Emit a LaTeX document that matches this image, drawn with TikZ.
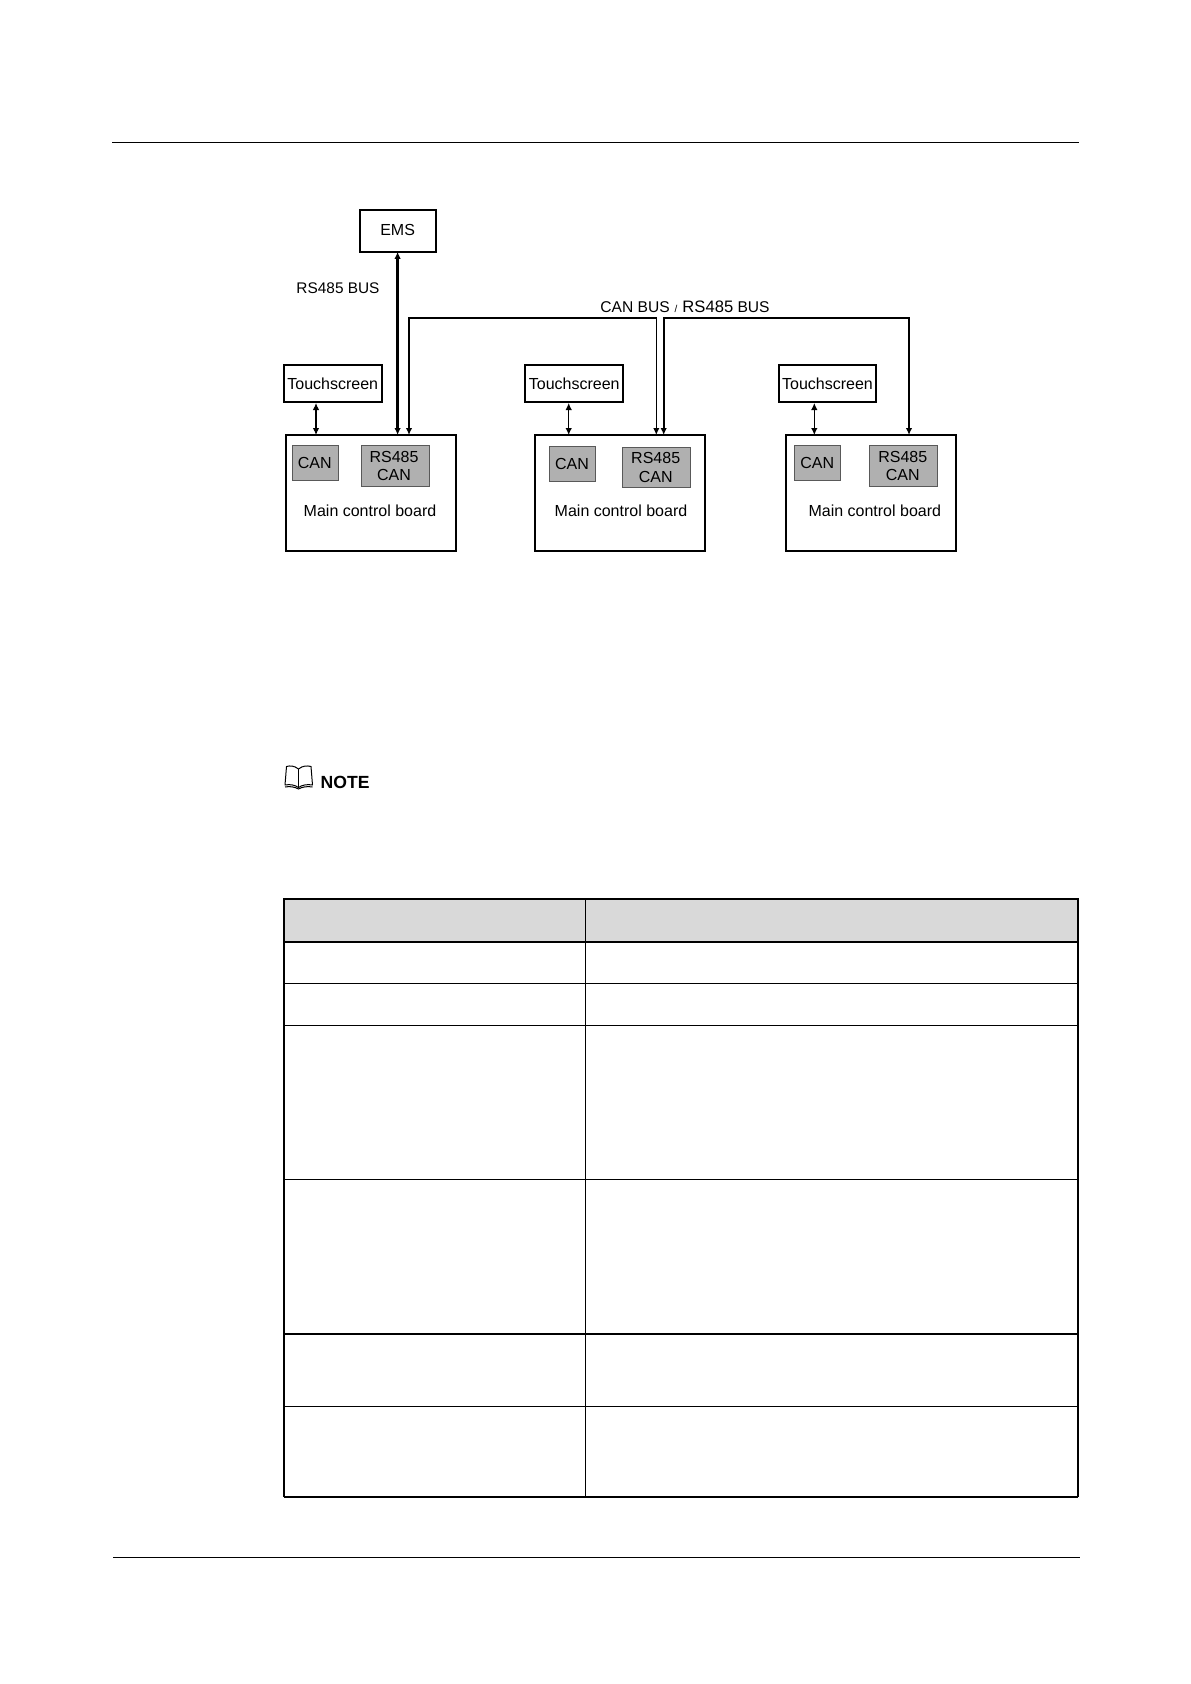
\documentclass[tikz,border=0pt]{standalone}
\usepackage{fontspec}
\setmainfont{Liberation Sans}
\usetikzlibrary{arrows.meta}
\definecolor{boardgrey}{RGB}{176, 176, 176}
\definecolor{headgrey}{RGB}{217, 217, 217}
\tikzset{
    boxfont/.style={font=\fontsize{16}{18.3}\selectfont},
    plainbox/.style={draw, line width=1.9pt, inner sep=0pt, outer sep=0pt, boxfont},
    chipbox/.style={draw=black!65, fill=boardgrey, line width=1pt, inner sep=0pt, outer sep=0pt, align=center, boxfont},
    tiptip/.style={{Latex[length=7pt,width=6.5pt]}-{Latex[length=7pt,width=6.5pt]}},
}
\begin{document}
\begin{tikzpicture}[x=1pt, y=-1pt]
    \useasboundingbox (0,0) rectangle (1191,1684);

    % Page rules
    \draw[line width=1.3pt] (112,142.3) -- (1079,142.3);
    \draw[line width=1.3pt] (113,1557.3) -- (1080,1557.3);

    % EMS and its label
    \node[plainbox, minimum width=76pt, minimum height=42pt, text depth=1pt] (ems) at (397.6,230.8) {EMS};
    \node[inner sep=0pt, font=\fontsize{15.4}{18}\selectfont] (rslabel) at (338,288) {RS485 BUS};

    % Boards with touchscreens
    \foreach \n/\bx/\tx/\ax/\cx/\cy/\rx/\ry/\mx in {
        1/371.2/332.7/316/315.2/462.8/395/466/370,
        2/619.9/574.2/568.7/572.5/464.3/656.7/467.6/621,
        3/871.2/827.5/814.3/817.7/462.6/903.8/466/874.8} {
        \node[plainbox, minimum width=170.3pt, minimum height=116pt] (board\n) at (\bx,493) {};
        \node[plainbox, minimum width=97.7pt, minimum height=36.5pt] (touch\n) at (\tx,383.3) {Touchscreen};
        \node[chipbox, minimum width=46pt, minimum height=35pt] (can\n) at (\cx,\cy) {CAN\hspace*{1pt}};
        \node[chipbox, minimum width=68pt, minimum height=40.5pt] (rs\n) at (\rx,\ry) {RS485\hspace*{2pt}\\CAN\hspace*{2pt}};
        \node[boxfont, inner sep=0pt] (main\n) at (\mx,510.7) {Main control board};
        \coordinate (tap\n) at (\ax,403);
        \draw[tiptip, line width=1.1pt] (tap\n) -- (tap\n |- board\n.north);
    }

    % Buses
    \coordinate (busa) at (409,317.7);
    \coordinate (busb) at (656.3,317.7);
    \coordinate (busc) at (663.7,317.7);
    \coordinate (busd) at (909,317.7);
    \draw[tiptip, line width=2.4pt] (ems.south) -- (ems.south |- board1.north);
    \draw[tiptip, line width=1.6pt] (busa |- board1.north) -- (busa) -- (busb) -- (busb |- board2.north);
    \draw[tiptip, line width=1.6pt] (busc |- board2.north) -- (busc) -- (busd) -- (busd |- board3.north);
    \node[inner sep=0pt, font=\fontsize{15.6}{18}\selectfont] (buslabel) at (685,307)
        {CAN BUS\hspace{5pt}{\fontsize{10}{12}\selectfont /}\hspace{5pt}{\fontsize{16.6}{18}\selectfont RS485} BUS};

    % Note mark
    \draw[line width=1pt, line join=round] (298.5,769) .. controls (294,765.5) and (290,765.5) .. (286.5,766.5)
        -- (285,785) .. controls (290,784) and (295,785) .. (298.5,787.5)
        .. controls (302,785) and (307,784) .. (312.5,785) -- (311,766.5)
        .. controls (307,765.5) and (303,765.5) .. (298.5,769) -- cycle;
    \draw[line width=1pt] (298.5,769) -- (298.5,787.5);
    \draw[line width=1pt] (285,787) .. controls (290,786) and (295,787) .. (298.5,789)
        .. controls (302,787) and (307,786) .. (312.5,787);
    \node[inner sep=0pt, anchor=west, font=\fontsize{17.6}{20}\selectfont\bfseries] (note) at (320.5,782) {NOTE};

    % Table
    \fill[headgrey] (284,899) rectangle (1078,941.7);
    \draw[line width=1.1pt] (585.3,899) -- (585.3,1497);
    \foreach \y/\w in {941.7/1.9, 983.3/1.1, 1025.5/1.1, 1179.3/1.1, 1333.9/1.6, 1406.6/1} {
        \draw[line width=\w pt] (284,\y) -- (1078,\y);
    }
    \draw[line width=1.3pt] (284,1497) -- (1078,1497);
    \draw[line width=2.2pt] (284,1497) -- (284,899) -- (1078,899) -- (1078,1497);
\end{tikzpicture}
\end{document}
